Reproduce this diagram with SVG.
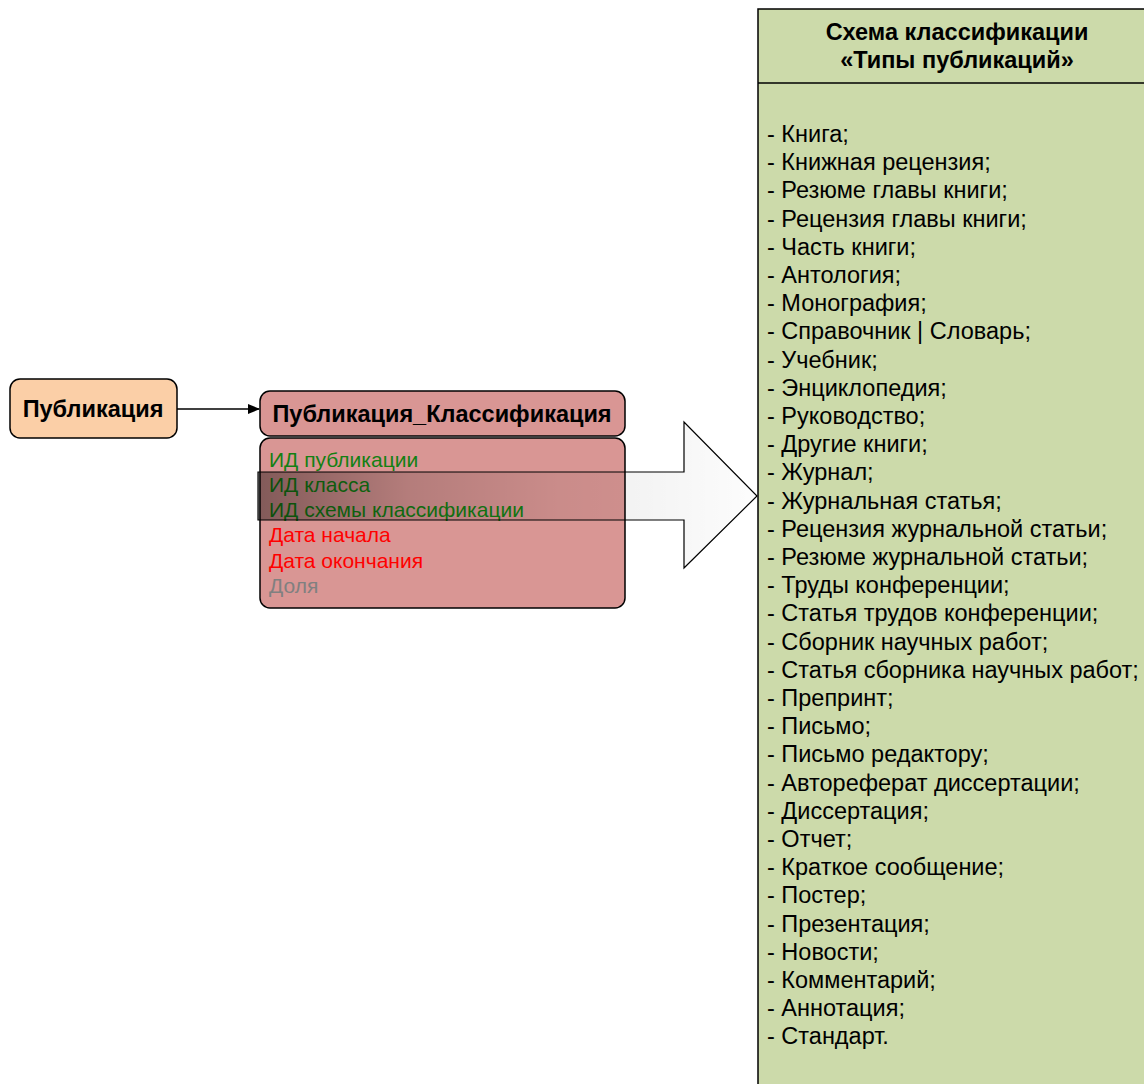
<svg xmlns="http://www.w3.org/2000/svg" width="1144" height="1084" viewBox="0 0 1144 1084">
<style>
text{font-family:"Liberation Sans",Arial,sans-serif}
.b{font-weight:bold;font-size:23.5px;fill:#000}
.li{font-size:23.5px;fill:#000}
.f{font-size:21px}
.g{fill:#138013}
.r{fill:#ff0000}
.gr{fill:#808080}
.box{stroke:#000;stroke-width:1.5}
</style>
<defs>
<marker id="ah" markerWidth="12" markerHeight="10" refX="11" refY="5" orient="auto" markerUnits="userSpaceOnUse">
<path d="M0,0 L12,5 L0,10 z" fill="#000"/>
</marker>
<linearGradient id="ag" gradientUnits="userSpaceOnUse" x1="258" y1="0" x2="757" y2="0">
<stop offset="0" stop-color="#000" stop-opacity="0.4"/>
<stop offset="0.3" stop-color="#000" stop-opacity="0.17"/>
<stop offset="0.6" stop-color="#000" stop-opacity="0.07"/>
<stop offset="1" stop-color="#000" stop-opacity="0.01"/>
</linearGradient>
</defs>
<g id="scheme">
<rect x="758" y="9" width="400" height="1090" fill="#CCDAAA" class="box"/>
<line x1="758" y1="83" x2="1144" y2="83" stroke="#000" stroke-width="1.5"/>
<text class="b" x="957" y="40" text-anchor="middle">Схема классификации</text>
<text class="b" x="957" y="68" text-anchor="middle">«Типы публикаций»</text>
<g class="li">
<text x="767" y="142">- Книга;</text>
<text x="767" y="170.2">- Книжная рецензия;</text>
<text x="767" y="198.4">- Резюме главы книги;</text>
<text x="767" y="226.6">- Рецензия главы книги;</text>
<text x="767" y="254.8">- Часть книги;</text>
<text x="767" y="283">- Антология;</text>
<text x="767" y="311.2">- Монография;</text>
<text x="767" y="339.4">- Справочник | Словарь;</text>
<text x="767" y="367.6">- Учебник;</text>
<text x="767" y="395.8">- Энциклопедия;</text>
<text x="767" y="424">- Руководство;</text>
<text x="767" y="452.2">- Другие книги;</text>
<text x="767" y="480.4">- Журнал;</text>
<text x="767" y="508.6">- Журнальная статья;</text>
<text x="767" y="536.8">- Рецензия журнальной статьи;</text>
<text x="767" y="565">- Резюме журнальной статьи;</text>
<text x="767" y="593.2">- Труды конференции;</text>
<text x="767" y="621.4">- Статья трудов конференции;</text>
<text x="767" y="649.6">- Сборник научных работ;</text>
<text x="767" y="677.8">- Статья сборника научных работ;</text>
<text x="767" y="706">- Препринт;</text>
<text x="767" y="734.2">- Письмо;</text>
<text x="767" y="762.4">- Письмо редактору;</text>
<text x="767" y="790.6">- Автореферат диссертации;</text>
<text x="767" y="818.8">- Диссертация;</text>
<text x="767" y="847">- Отчет;</text>
<text x="767" y="875.2">- Краткое сообщение;</text>
<text x="767" y="903.4">- Постер;</text>
<text x="767" y="931.6">- Презентация;</text>
<text x="767" y="959.8">- Новости;</text>
<text x="767" y="988">- Комментарий;</text>
<text x="767" y="1016.2">- Аннотация;</text>
<text x="767" y="1044.4">- Стандарт.</text>
</g>
</g>
<g id="publication">
<rect x="10" y="379" width="167" height="59" rx="10" fill="#FBCFA7" class="box"/>
<text class="b" x="93" y="417" text-anchor="middle">Публикация</text>
</g>
<g id="pub-class">
<rect x="260" y="391" width="365" height="45" rx="10" fill="#D99694" class="box"/>
<text class="b" x="442" y="422" text-anchor="middle">Публикация_Классификация</text>
<rect x="260" y="438" width="365" height="170" rx="10" fill="#D99694" class="box"/>
<text class="f g" x="269" y="466.5">ИД публикации</text>
<text class="f g" x="269" y="491.8">ИД класса</text>
<text class="f g" x="269" y="517.1">ИД схемы классификации</text>
<text class="f r" x="269" y="542.4">Дата начала</text>
<text class="f r" x="269" y="567.7">Дата окончания</text>
<text class="f gr" x="269" y="593">Доля</text>
</g>
<g id="connectors">
<line x1="177" y1="409" x2="259" y2="409" stroke="#000" stroke-width="1.5" marker-end="url(#ah)"/>
<polygon points="258,472 684,472 684,422 757,496 684,568 684,520 258,520" fill="url(#ag)" stroke="#000" stroke-width="1.2"/>
</g>
</svg>
